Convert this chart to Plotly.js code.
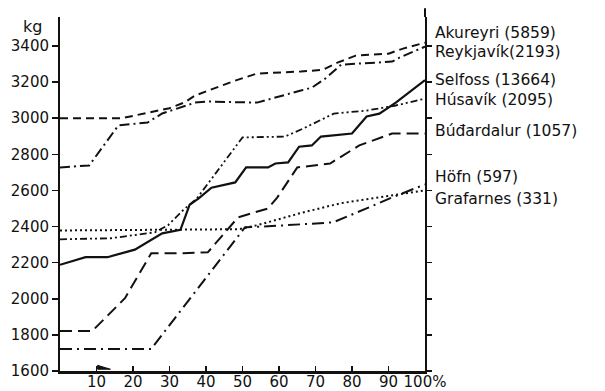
<!DOCTYPE html>
<html>
<head>
<meta charset="utf-8">
<script src="https://cdn.plot.ly/plotly-3.0.1.min.js"></script>
<style>
  html, body { margin: 0; padding: 0; background: #ffffff; }
  #chart { width: 605px; height: 391px; }
</style>
</head>
<body>
<div id="chart"></div>
<script>
// Percent of population (x) vs kg (y)
const akureyriX = [0, 17, 30, 34, 37, 48, 54, 66, 72, 76, 81, 90, 94, 100];
const akureyriY = [3000, 3000, 3055, 3086, 3125, 3208, 3247, 3258, 3268, 3307, 3346, 3357, 3385, 3418];

const reykjavikX = [0, 8, 16, 24, 28, 34, 37, 40.5, 54, 66, 69, 73, 77, 91, 93, 100];
const reykjavikY = [2727, 2738, 2960, 2976, 3026, 3064, 3086, 3092, 3086, 3153, 3169, 3224, 3296, 3313, 3335, 3396];

const selfossX = [0, 7, 13, 20.5, 28, 33, 35.5, 38, 41.5, 48, 51, 57, 59, 62.5, 65.5, 69, 71.5, 80, 84, 87.5, 92, 100];
const selfossY = [2188, 2230, 2230, 2272, 2362, 2382, 2520, 2556, 2615, 2644, 2727, 2727, 2749, 2755, 2842, 2849, 2898, 2915, 3009, 3025, 3086, 3210];

const husavikX = [0, 14, 26, 29.6, 33.7, 37.5, 50, 61.6, 66.6, 75, 84, 92, 100];
const husavikY = [2329, 2335, 2368, 2407, 2490, 2556, 2893, 2898, 2942, 3025, 3042, 3070, 3108];

const budardalurX = [0, 8.8, 17.8, 25, 33.7, 40.5, 48.8, 57, 59.5, 65, 74, 82, 91, 100];
const budardalurY = [1821, 1821, 2003, 2252, 2252, 2257, 2451, 2500, 2560, 2727, 2749, 2849, 2915, 2915];

const hofnX = [0, 25, 31.5, 50.7, 57, 74.8, 84, 91, 100];
const hofnY = [1722, 1722, 1893, 2396, 2401, 2423, 2500, 2561, 2633];

const grafarnesX = [0, 49, 54, 66.6, 76.7, 89.6, 100];
const grafarnesY = [2378, 2385, 2407, 2478, 2528, 2567, 2600];

const seriesNames = ["Akureyri (5859)", "Reykjavík(2193)", "Selfoss (13664)", "Húsavík (2095)",
                     "Búđardalur (1057)", "Höfn (597)", "Grafarnes (331)"];

const xTickVals = [10, 20, 30, 40, 50, 60, 70, 80, 90, 100];
const xTickText = ["10", "20", "30", "40", "50", "60", "70", "80", "90", "100%"];
const yTickVals = [1600, 1800, 2000, 2200, 2400, 2600, 2800, 3000, 3200, 3400];

// ---- styling / layout ----
const ink = "#111111";
const FONT = "DejaVu Sans, sans-serif";
const styles = [
  {dash: "8px,5px", width: 2},
  {dash: "10px,4px,2px,4px", width: 2},
  {dash: "solid", width: 2.2},
  {dash: "7px,3px,2px,3px,2px,3px", width: 1.8},
  {dash: "12px,6px", width: 2},
  {dash: "12px,5px,2px,5px", width: 2},
  {dash: "2px,3px", width: 2}
];
const xs = [akureyriX, reykjavikX, selfossX, husavikX, budardalurX, hofnX, grafarnesX];
const ys = [akureyriY, reykjavikY, selfossY, husavikY, budardalurY, hofnY, grafarnesY];

const traces = xs.map((x, i) => ({
  x: x, y: ys[i], type: "scatter", mode: "lines", name: seriesNames[i],
  line: {color: ink, width: styles[i].width, dash: styles[i].dash},
  hoverinfo: "skip", showlegend: false
}));
// invisible trace to activate right axis
traces.push({x: [0], y: [1600], yaxis: "y2", mode: "markers", marker: {opacity: 0}, showlegend: false, hoverinfo: "skip"});

// label vertical positions in data units (layout)
const labelY = [3471, 3366, 3211, 3100, 2929, 2672, 2553];
const annotations = seriesNames.map((t, i) => ({
  xref: "paper", yref: "y", x: 1.022, y: labelY[i], xanchor: "left", yanchor: "middle",
  text: t, showarrow: false, font: {family: FONT, size: 15.5, color: ink}
}));
annotations.push({xref: "paper", yref: "paper", x: -0.074, y: 0.972, xanchor: "center", yanchor: "middle",
  text: "kg", showarrow: false, font: {family: FONT, size: 16, color: ink}});

const layout = {
  width: 605, height: 391,
  margin: {l: 60, r: 180, t: 17, b: 20},
  paper_bgcolor: "#ffffff", plot_bgcolor: "#ffffff",
  font: {family: FONT, size: 15, color: ink},
  xaxis: {
    range: [0, 100], tickvals: xTickVals, ticktext: xTickText,
    ticks: "inside", ticklen: 5, tickwidth: 1.5, tickcolor: ink,
    ticklabelstandoff: -5,
    showline: true, linecolor: ink, linewidth: 2.5, showgrid: false, zeroline: false,
    automargin: false, tickfont: {family: FONT, size: 15, color: ink}
  },
  yaxis: {
    range: [1600, 3560], tickvals: yTickVals,
    ticks: "outside", ticklen: 6, tickwidth: 1.5, tickcolor: ink,
    showline: true, linecolor: ink, linewidth: 2, showgrid: false, zeroline: false,
    automargin: false, tickfont: {family: FONT, size: 15, color: ink}
  },
  yaxis2: {
    overlaying: "y", side: "right", range: [1600, 3560], tickvals: yTickVals,
    ticks: "outside", ticklen: 5, tickwidth: 1.5, tickcolor: ink, showticklabels: false,
    showline: true, linecolor: ink, linewidth: 2, showgrid: false, zeroline: false, automargin: false
  },
  shapes: [
    {type: "line", xref: "paper", yref: "paper", x0: 1, x1: 1, y0: 1, y1: 1.025, line: {color: ink, width: 2}},
    {type: "path", xref: "x", yref: "paper", path: "M 10.3 0.005 L 10.3 0.016 L 13.8 0.005 Z",
     fillcolor: ink, line: {color: ink, width: 1}}
  ],
  annotations: annotations
};

Plotly.newPlot("chart", traces, layout, {staticPlot: true, displayModeBar: false});
</script>
</body>
</html>
